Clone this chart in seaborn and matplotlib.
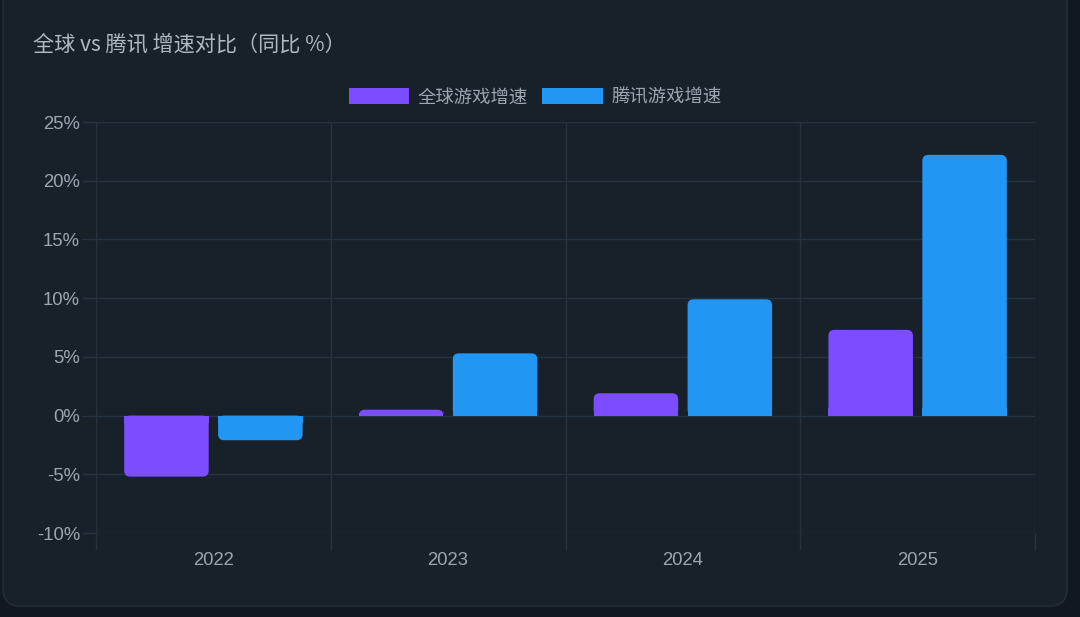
import matplotlib
matplotlib.use("Agg")
import matplotlib.pyplot as plt
from matplotlib.patches import FancyBboxPatch, Rectangle
from matplotlib.ticker import FixedLocator, FuncFormatter
import seaborn as sns
import pandas as pd

# ---- data ----
years = ["2022", "2023", "2024", "2025"]
series_names = ["全球游戏增速", "腾讯游戏增速"]
global_growth = [-5.2, 0.5, 1.9, 7.3]
tencent_growth = [-2.1, 5.3, 9.9, 22.2]
y_ticks = [-10, -5, 0, 5, 10, 15, 20, 25]
title_text = "全球 vs 腾讯 增速对比（同比 %）"

colors = ["#7C4DFF", "#2196F3"]
OUTER_BG = "#111820"
CARD_BG = "#18212a"
GRID = "#253340"
TEXT = "#9ba6b1"
TITLE_C = "#aeb9c2"

sns.set_theme(style="dark")
plt.rcParams['font.family'] = ['Noto Sans CJK SC', 'DejaVu Sans']

df = pd.DataFrame({
    "year": years * 2,
    "value": global_growth + tencent_growth,
    "series": [series_names[0]] * len(years) + [series_names[1]] * len(years),
})

W, H = 1080, 617
fig = plt.figure(figsize=(W / 100, H / 100), dpi=100)
fig.patch.set_facecolor(OUTER_BG)

# card
card = FancyBboxPatch((3 / W, 11 / H), 1064 / W, 620 / H,
                      boxstyle="round,pad=0,rounding_size=0.016",
                      mutation_aspect=W / H,
                      transform=fig.transFigure, facecolor=CARD_BG,
                      edgecolor="#222c37", linewidth=1.2, zorder=-10)
fig.patches.append(card)

ax = fig.add_axes([96 / W, 1 - 533 / H, (1035 - 96) / W, (533 - 122) / H])
ax.set_facecolor("none")
ax.set_zorder(5)

sns.barplot(data=df, x="year", y="value", hue="series", palette=colors,
            width=0.8, gap=0.1, legend=False, ax=ax, saturation=1,
            errorbar=None, zorder=3)

ax.set_ylim(-10, 25)
ax.set_xlim(-0.5, len(years) - 0.5)

# rounded bars (rounded at the end away from zero)
px_per_x = (1035 - 96) / len(years)
px_per_y = (533 - 122) / 35.0
r_px = 6
bars = list(ax.patches)
for p in bars:
    x, w = p.get_x(), p.get_width()
    y0, h = p.get_y(), p.get_height()
    fc = p.get_facecolor()
    p.remove()
    if h == 0:
        continue
    bottom = min(y0, y0 + h)
    hh = abs(h)
    r_x = r_px / px_per_x
    aspect = px_per_x / px_per_y
    rr = FancyBboxPatch((x, bottom), w, hh,
                        boxstyle=f"round,pad=0,rounding_size={r_x}",
                        mutation_aspect=aspect, facecolor=fc,
                        edgecolor="none", zorder=3)
    ax.add_patch(rr)
    # square off the end at zero
    sq_h = min(hh, hh * 0.5 if hh * px_per_y < 2 * r_px else r_px / px_per_y * 1.2)
    if h > 0:
        sq = Rectangle((x, 0), w, sq_h, facecolor=fc, edgecolor="none", zorder=3)
    else:
        sq = Rectangle((x, -sq_h), w, sq_h, facecolor=fc, edgecolor="none", zorder=3)
    ax.add_patch(sq)

# grid & ticks
ax.yaxis.set_major_locator(FixedLocator(y_ticks))
ax.yaxis.set_major_formatter(FuncFormatter(lambda v, _: f"{int(v)}%"))
ax.xaxis.set_minor_locator(FixedLocator([i - 0.5 for i in range(len(years) + 1)]))
ax.grid(False)
for yv in y_ticks:
    ax.axhline(yv, color=GRID, linewidth=1, zorder=1)
for xv in [i - 0.5 for i in range(len(years) + 1)]:
    ax.axvline(xv, color=GRID, linewidth=1, zorder=1)

ax.tick_params(axis="y", which="major", length=10, width=1, color=GRID,
               labelsize=13.3, labelcolor=TEXT, pad=1.5, left=True)
ax.tick_params(axis="x", which="major", length=0, labelsize=13.3,
               labelcolor=TEXT, pad=14, bottom=True)
ax.tick_params(axis="x", which="minor", length=12, width=1, color=GRID,
               bottom=True)
for lab in ax.get_xticklabels() + ax.get_yticklabels():
    lab.set_fontfamily(['Liberation Sans', 'DejaVu Sans'])
ax.set_xlabel("")
ax.set_ylabel("")
for s in ax.spines.values():
    s.set_visible(False)

# title
fig.text(33 / W, 1 - 45 / H, title_text, color=TITLE_C, fontsize=15.2,
         va="center", ha="left", family=['Noto Sans CJK SC', 'DejaVu Sans'])

# legend
handles = [Rectangle((0, 0), 1, 1, facecolor=c, edgecolor="none") for c in colors]
leg = fig.legend(handles, series_names, loc="center", ncol=2,
                 bbox_to_anchor=(535 / W, 1 - 97 / H), frameon=False,
                 handlelength=3.3, handleheight=1.0,
                 handletextpad=0.45, columnspacing=0.8,
                 prop={'family': ['Noto Sans CJK SC', 'DejaVu Sans'], 'size': 13.2})
for t in leg.get_texts():
    t.set_color(TEXT)

fig.savefig("out.png", dpi=100, facecolor=OUTER_BG)
